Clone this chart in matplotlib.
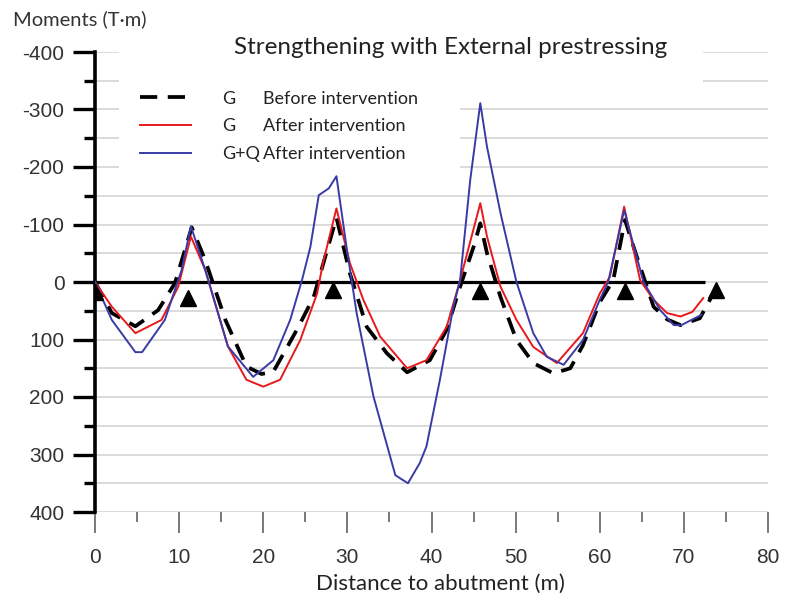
import matplotlib
matplotlib.use("Agg")
import matplotlib.pyplot as plt
from matplotlib.patches import Rectangle
from matplotlib.ticker import MultipleLocator

plt.rcParams['axes.unicode_minus'] = False

# G before intervention (dashed black)
x_before = [0, 2, 4.8, 7.5, 9.5, 11.5, 13.1, 15.5, 18.0, 19.8, 21.2, 24.0, 26.0,
            28.7, 30.3, 32.3, 34.7, 37.1, 39.8, 41.8, 43.4, 45.0, 45.8, 46.6,
            48.2, 50.1, 52.1, 54.5, 56.5, 58.0, 60.0, 61.6, 63.0, 64.4, 66.4,
            68.0, 69.6, 71.9, 73.8]
m_before = [0, 54, 77, 49, 2, -95, -38, 66, 147, 160, 156, 83, 26,
            -112, -15, 78, 124, 157, 136, 83, 8, -61, -102, -50,
            26, 101, 141, 159, 150, 110, 35, -3, -108, -44, 43,
            65, 75, 63, 12]

# G after intervention (red)
x_after = [0, 2, 4.8, 7.9, 9.9, 11.4, 13.1, 15.8, 18.0, 20.0, 22.0, 24.4, 26.4,
           27.1, 28.7, 30.3, 31.9, 33.9, 37.1, 39.4, 41.8, 43.4, 45.8, 46.6,
           48.2, 50.1, 52.1, 54.9, 58.0, 60.0, 61.2, 62.9, 64.8, 66.4, 68.0,
           69.6, 71.0, 72.3]
m_after = [0, 43, 89, 66, 8, -79, -21, 112, 170, 182, 170, 101, 20,
           -33, -128, -33, 31, 95, 150, 136, 78, -3, -137, -79,
           8, 66, 113, 141, 89, 20, -9, -131, -3, 31, 54,
           60, 52, 28]

# G+Q after intervention (blue)
x_gq = [0, 2, 4.8, 5.6, 8.3, 10.3, 11.4, 13.1, 15.8, 18.8, 21.2, 23.2, 24.6,
        25.6, 26.6, 27.8, 28.7, 29.9, 31.1, 32.7, 33.1, 35.7, 37.2, 38.6,
        39.4, 41.0, 42.6, 43.4, 44.6, 45.8, 46.6, 48.2, 50.1, 52.1, 53.7,
        55.7, 58.0, 60.0, 61.0, 62.9, 65.2, 67.2, 68.8, 69.7, 72.1]
m_gq = [0, 66, 122, 122, 66, -21, -97, -21, 112, 165, 136, 66, -3,
        -61, -151, -163, -184, -61, 54, 170, 199, 336, 350, 315,
        286, 170, 43, -3, -177, -311, -235, -120, 0, 89, 130,
        144, 101, 31, 0, -125, 0, 49, 75, 75, 57]

# supports
x_supports = [0, 11.0, 28.3, 45.8, 63.0, 73.8]
y_supports = [18, 28, 14, 15, 15, 14]

legend_keys = ['G', 'G', 'G+Q']
legend_desc = ['Before intervention', 'After intervention', 'After intervention']

fig = plt.figure(figsize=(7.86, 6.05), dpi=100)
ax = fig.add_axes([95 / 786, 1 - 512 / 605, 673 / 786, 460 / 605])

ax.set_axisbelow(True)
ax.yaxis.grid(True, which='both', color='#d4d4d4', lw=1.2)

# white boxes behind title and legend
ax.add_patch(Rectangle((2.9, -415), 69.4, 90, facecolor='white', edgecolor='none', zorder=1))
ax.add_patch(Rectangle((2.9, -330), 40.5, 150, facecolor='white', edgecolor='none', zorder=1))

ax.hlines(0, 0, 72.5, color='black', lw=2.3, zorder=2)

l1, = ax.plot(x_before, m_before, color='black', lw=2.7, dashes=(4.6, 2.8), zorder=3)
l2, = ax.plot(x_after, m_after, color='#e8191c', lw=1.4, zorder=4)
l3, = ax.plot(x_gq, m_gq, color='#3a3aa6', lw=1.4, zorder=5)

ax.plot(x_supports, y_supports, linestyle='none', marker='^', color='black',
        markersize=12, zorder=6)

ax.set_xlim(0, 80)
ax.set_ylim(400, -400)
ax.xaxis.set_major_locator(MultipleLocator(10))
ax.xaxis.set_minor_locator(MultipleLocator(5))
ax.yaxis.set_major_locator(MultipleLocator(100))
ax.yaxis.set_minor_locator(MultipleLocator(50))

for s in ['top', 'right', 'bottom']:
    ax.spines[s].set_visible(False)
ax.spines['left'].set_linewidth(2.6)

ax.tick_params(axis='y', which='major', length=16, width=2.4, pad=6,
               labelsize=15, labelcolor='#333333')
ax.tick_params(axis='y', which='minor', length=8, width=2.4)
ax.tick_params(axis='x', which='major', length=15, width=1.1, color='#555555',
               pad=11, labelsize=15, labelcolor='#333333')
ax.tick_params(axis='x', which='minor', length=7, width=1.1, color='#555555')
for lab in ax.get_xticklabels() + ax.get_yticklabels():
    lab.set_fontfamily('Liberation Sans')

ax.set_xlabel('Distance to abutment (m)', fontsize=16, family='Lato', color='#222222')
ax.xaxis.set_label_coords(0.514, -0.135)
fig.text(13 / 786, 1 - 19 / 605, 'Moments (T\u00b7m)', fontsize=14.5, family='Lato',
         va='center', ha='left', color='#333333')
fig.text(451 / 786, 1 - 48 / 605, 'Strengthening with External prestressing',
         fontsize=17.5, family='Lato', ha='center', va='center', color='#222222')

leg = ax.legend([l1, l2, l3], legend_keys, loc='upper left',
                bbox_to_anchor=(0.067, 0.916), frameon=False, borderpad=0,
                borderaxespad=0, handlelength=2.8, handletextpad=1.75,
                labelspacing=0.65, prop={'family': 'Lato', 'size': 13})

# descriptions aligned with the legend rows
fig.canvas.draw()
inv = fig.transFigure.inverted()
for t, desc in zip(leg.get_texts(), legend_desc):
    t.set_color('#222222')
    px, py = t.get_transform().transform(t.get_position())
    fx, fy = inv.transform((px, py))
    fig.text(263 / 786, fy, desc, fontsize=13, family='Lato', va=t.get_va(),
             ha='left', color='#222222')

fig.savefig('out.png', dpi=100)
